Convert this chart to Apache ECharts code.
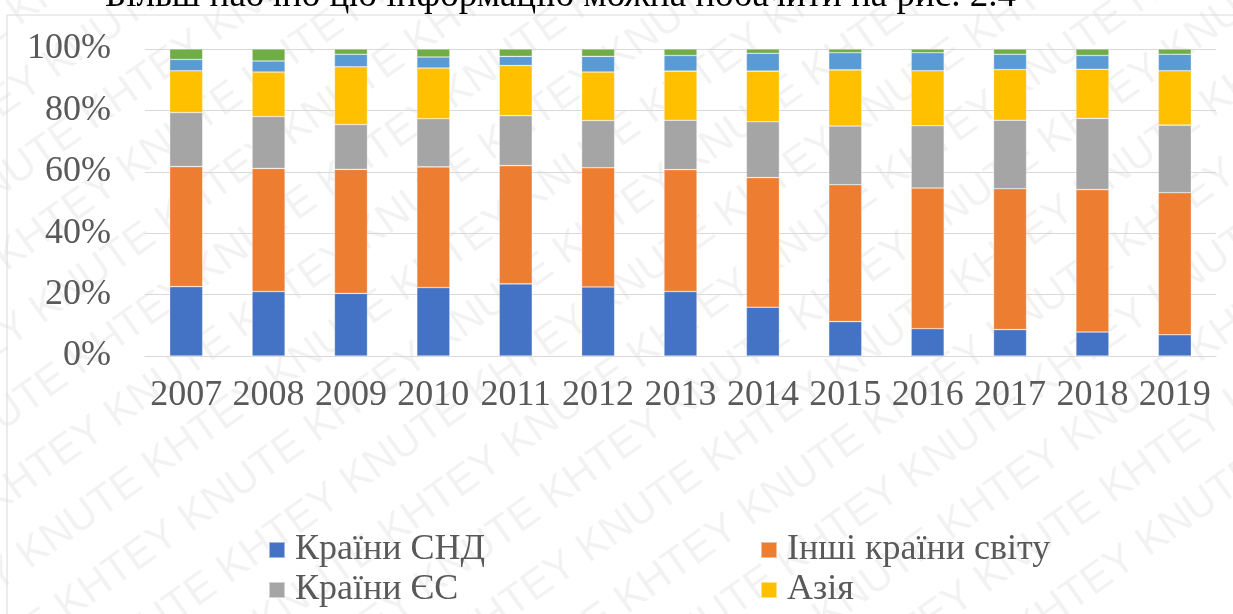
<!DOCTYPE html>
<html>
<head>
<meta charset="utf-8">
<script src="https://cdn.jsdelivr.net/npm/echarts@6/dist/echarts.min.js"></script>
<style>
  html, body { margin: 0; padding: 0; background: #fff; }
  #chart { width: 1233px; height: 614px; }
</style>
</head>
<body>
<div id="chart"></div>
<script>
// роки
const years = ['2007', '2008', '2009', '2010', '2011', '2012', '2013', '2014', '2015', '2016', '2017', '2018', '2019'];
const yTicks = [0, 20, 40, 60, 80, 100];

// частки, %
const cisData = [22.6, 21.0, 20.4, 22.3, 23.5, 22.5, 21.0, 15.9, 11.2, 8.9, 8.6, 7.8, 6.9];
const otherData = [39.1, 40.1, 40.4, 39.3, 38.5, 38.8, 39.7, 42.2, 44.6, 45.8, 45.9, 46.4, 46.3];
const euData = [17.6, 16.9, 14.6, 15.7, 16.3, 15.4, 16.1, 18.2, 19.1, 20.3, 22.3, 23.2, 22.0];
const asiaData = [13.6, 14.5, 18.8, 16.5, 16.3, 15.8, 16.0, 16.5, 18.3, 17.9, 16.5, 16.0, 17.7];
const americaData = [3.7, 3.6, 4.1, 3.6, 3.0, 5.1, 5.1, 5.8, 5.6, 5.9, 5.0, 4.5, 5.4];
const africaData = [3.4, 3.9, 1.7, 2.6, 2.4, 2.4, 2.1, 1.4, 1.2, 1.2, 1.7, 2.1, 1.7];

const seriesNames = ['Країни СНД', 'Інші країни світу', 'Країни ЄС', 'Азія', 'Америка', 'Африка'];
const seriesData = [cisData, otherData, euData, asiaData, americaData, africaData];
const colors = ['#4472C4', '#ED7D31', '#A5A5A5', '#FFC000', '#5B9BD5', '#70AD47'];

const serif = '"Liberation Serif", "Times New Roman", serif';

/**
 * водяний знак
 */
const makeWatermark = () => {
  const items = [];
  const angle = 0.62;
  const ux = Math.cos(angle);
  const uy = -Math.sin(angle);
  const vx = Math.sin(angle);
  const vy = Math.cos(angle);
  const len = 306;
  const gap = 64;
  for (let j = -12; j < 18; j++) {
    for (let i = -4; i < 8; i++) {
      const s = i * len + (j % 2) * len * 0.5;
      items.push({
        type: 'text',
        x: s * ux + j * gap * vx,
        y: s * uy + j * gap * vy,
        rotation: angle,
        silent: true,
        z: -10,
        style: {
          text: 'KHTEY KNUTE',
          font: '42px "Liberation Sans", sans-serif',
          fill: 'rgba(0,0,0,0.05)',
        },
      });
    }
  }
  return items;
};

// одна легенда на кожен пункт (2 колонки)
const legendPos = [
  { name: seriesNames[0], left: 263, top: 527 },
  { name: seriesNames[1], left: 755, top: 527 },
  { name: seriesNames[2], left: 263, top: 567 },
  { name: seriesNames[3], left: 755, top: 567 },
];

const chart = echarts.init(document.getElementById('chart'));

const option = {
  animation: false,
  color: colors,
  grid: {
    left: 145,
    right: 17,
    top: 49,
    bottom: 258,
    containLabel: false,
  },
  legend: legendPos.map((item) => ({
    left: item.left,
    top: item.top,
    itemWidth: 16,
    itemHeight: 16,
    icon: 'rect',
    data: [item.name],
    textStyle: {
      fontFamily: serif,
      fontSize: 36,
      lineHeight: 34,
      color: '#595959',
      padding: [0, 0, 0, 5],
    },
  })),
  xAxis: {
    type: 'category',
    data: years,
    axisTick: { show: false },
    axisLine: { lineStyle: { color: '#d9d9d9', width: 1 } },
    axisLabel: {
      interval: 0,
      margin: 22,
      fontFamily: serif,
      fontSize: 36,
      color: '#595959',
    },
  },
  yAxis: {
    type: 'value',
    min: yTicks[0],
    max: yTicks[yTicks.length - 1],
    interval: 20,
    axisLine: { show: false },
    axisTick: { show: false },
    splitLine: { lineStyle: { color: '#d9d9d9', width: 1 } },
    axisLabel: {
      margin: 34,
      fontFamily: serif,
      fontSize: 36,
      color: '#595959',
      formatter: '{value}%',
    },
  },
  graphic: [
    ...makeWatermark(),
    {
      type: 'rect',
      silent: true,
      shape: { x: 7, y: 15, width: 1300, height: 700 },
      style: { fill: 'none', stroke: '#d9d9d9', lineWidth: 1 },
    },
    {
      type: 'text',
      left: 105,
      top: -22,
      silent: true,
      style: {
        text: 'Більш наочно цю інформацію можна побачити на рис. 2.4',
        font: '37px ' + serif,
        fill: '#000',
      },
    },
  ],
  series: seriesNames.map((name, i) => ({
    name,
    type: 'bar',
    stack: 'total',
    barWidth: 33,
    itemStyle: {
      borderColor: 'rgba(255,255,255,0.5)',
      borderWidth: 0.6,
    },
    data: seriesData[i],
  })),
};

chart.setOption(option);
window.addEventListener('resize', () => chart.resize());
</script>
</body>
</html>
